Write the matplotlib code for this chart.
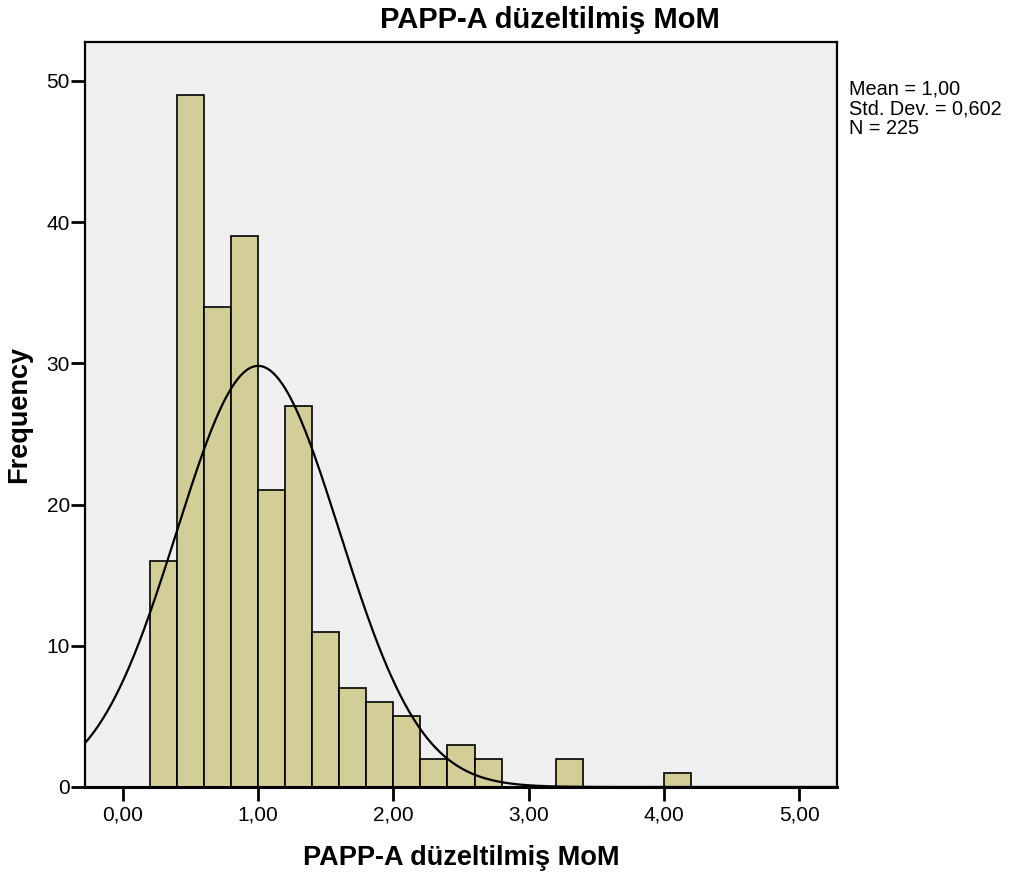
import numpy as np
import matplotlib.pyplot as plt

# Data
bin_left = [0.2, 0.4, 0.6, 0.8, 1.0, 1.2, 1.4, 1.6, 1.8, 2.0, 2.2, 2.4, 2.6, 3.2, 4.0]
counts = [16, 49, 34, 39, 21, 27, 11, 7, 6, 5, 2, 3, 2, 2, 1]
bin_width = 0.2
mean, sd, n = 1.00, 0.602, 225
xticks = [0, 1, 2, 3, 4, 5]
xtick_labels = ['0,00', '1,00', '2,00', '3,00', '4,00', '5,00']
yticks = [0, 10, 20, 30, 40, 50]

plt.rcParams['font.family'] = ['Liberation Sans', 'DejaVu Sans']

fig = plt.figure(figsize=(10.1, 8.75), dpi=100)
ax = fig.add_axes([0.0842, 0.1006, 0.7445, 0.8514])
ax.set_facecolor('#efefef')

ax.bar(bin_left, counts, width=bin_width, align='edge',
       color='#d3ce98', edgecolor='black', linewidth=1.2, zorder=2)

# Normal curve
xs = np.linspace(-0.28, 5.28, 500)
ys = n * bin_width * np.exp(-0.5 * ((xs - mean) / sd) ** 2) / (sd * np.sqrt(2 * np.pi))
ax.plot(xs, ys, color='black', linewidth=1.6, zorder=3)

ax.set_xlim(-0.28, 5.28)
ax.set_ylim(0, 52.76)
ax.set_xticks(xticks)
ax.set_xticklabels(xtick_labels)
ax.set_yticks(yticks)
ax.tick_params(direction='out', length=10, width=2, labelsize=15, pad=3)
ax.tick_params(axis='y', length=10, pad=1)
for s in ax.spines.values():
    s.set_linewidth(1.6)
ax.spines['bottom'].set_linewidth(2.2)

ax.set_title('PAPP-A düzeltilmiş MoM', fontsize=21, fontweight='bold', pad=10, x=0.618)
ax.set_xlabel('PAPP-A düzeltilmiş MoM', fontsize=19.5, fontweight='bold', labelpad=15)
ax.set_ylabel('Frequency', fontsize=19.5, fontweight='bold', labelpad=10)

fig.text(0.841, 0.909, 'Mean = 1,00\nStd. Dev. = 0,602\nN = 225',
         fontsize=14.3, va='top', ha='left', linespacing=1.05)

plt.savefig('out.png', dpi=100)
